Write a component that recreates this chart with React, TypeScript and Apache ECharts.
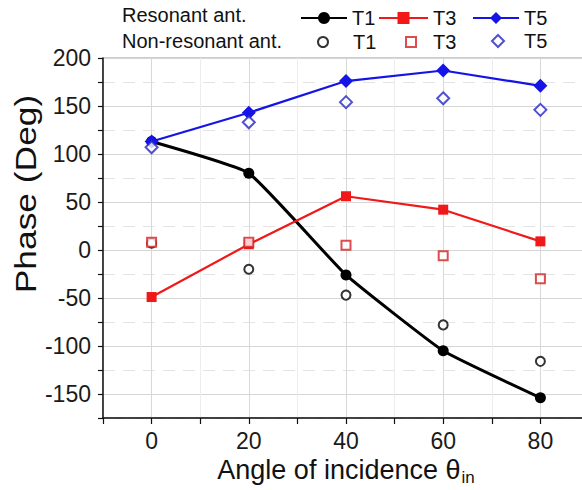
import React, { useEffect, useRef } from 'react';
import * as echarts from 'echarts';

const angles = [0, 20, 40, 60, 80];
const resT1 = [113, 80, -26, -105, -154];
const resT3 = [-49, 6, 56, 42, 9];
const resT5 = [113, 143, 176, 187, 171];
const nonT1 = [7, -20, -47, -78, -116];
const nonT3 = [8, 8, 5, -6, -30];
const nonT5 = [107, 133, 154, 158, 146];
const xTickLabels = [0, 20, 40, 60, 80];
const yTickLabels = [-150, -100, -50, 0, 50, 100, 150, 200];

const FONT = 'Liberation Sans, Arial, sans-serif';
const toPairs = (vals: number[]) => angles.map((a, i) => [a, vals[i]]);

export default function App() {
  const ref = useRef<HTMLDivElement>(null);
  useEffect(() => {
    if (!ref.current) return;
    const chart = echarts.init(ref.current, undefined, { renderer: 'svg' });
    const RED = '#f01818';
    const BLUE = '#1414e6';
    const legendBase = {
      orient: 'horizontal',
      padding: 0,
      formatter: (n: string) => n.split(' ')[1],
      textStyle: { fontSize: 20, color: '#111', fontFamily: FONT },
    };
    chart.setOption({
      animation: false,
      backgroundColor: '#ffffff',
      grid: {
        left: 103, top: 58, right: -7, bottom: 72,
        containLabel: false, outerBoundsMode: 'none',
        show: true, borderColor: '#9a9a9a', borderWidth: 1,
      },
      xAxis: [
        {
          type: 'value',
          min: -10,
          max: 90,
          interval: 10,
          axisLine: { show: true, onZero: false, lineStyle: { color: '#111', width: 1.5 } },
          axisTick: { show: true, inside: false, length: 6, lineStyle: { color: '#111', width: 1.2 } },
          axisLabel: {
            fontSize: 23,
            color: '#1a1a1a',
            fontFamily: FONT,
            margin: 11,
            formatter: (v: number) => (xTickLabels.includes(v) ? String(v) : ''),
          },
          splitLine: { show: true, lineStyle: { color: ['#ededed', '#d8d8d8'], width: 1 } },
          name: 'Angle of incidence θ{sub|in}',
          nameLocation: 'middle',
          nameGap: 35,
          nameTextStyle: {
            fontSize: 27,
            color: '#111',
            fontFamily: FONT,
            rich: { sub: { fontSize: 17, color: '#111', fontFamily: FONT, padding: [15, 0, 0, 1] } },
          },
        },
      ],
      yAxis: [
        {
          type: 'value',
          min: -175,
          max: 200,
          interval: 25,
          axisLine: { show: true, onZero: false, lineStyle: { color: '#111', width: 1.5 } },
          axisTick: { show: true, inside: false, length: 5, lineStyle: { color: '#111', width: 1.2 } },
          axisLabel: {
            fontSize: 23,
            color: '#1a1a1a',
            fontFamily: FONT,
            margin: 12,
            formatter: (v: number) => (yTickLabels.includes(v) ? String(v) : ''),
          },
          splitLine: { show: true, lineStyle: { color: ['rgba(0,0,0,0)', '#d6d6d6'], width: 1 } },
        },
        {
          type: 'value',
          min: -175,
          max: 200,
          interval: 25,
          axisLine: { show: false },
          axisTick: { show: false },
          axisLabel: { show: false },
          splitLine: { show: true, lineStyle: { color: ['#e4e4e4', 'rgba(0,0,0,0)'], width: 1, type: [12, 8] } },
        },
      ],
      legend: [
        { ...legendBase, data: ['Resonant T1'], left: 300, top: 8, itemWidth: 46, itemHeight: 15 },
        { ...legendBase, data: ['Resonant T3'], left: 378, top: 8, itemWidth: 49, itemHeight: 15 },
        { ...legendBase, data: ['Resonant T5'], left: 472, top: 8, itemWidth: 46, itemHeight: 15 },
        { ...legendBase, data: ['Nonresonant T1'], left: 317, top: 32, itemWidth: 10, itemHeight: 10,
          textStyle: { ...legendBase.textStyle, padding: [0, 0, 0, 20] } },
        { ...legendBase, data: ['Nonresonant T3'], left: 405, top: 32, itemWidth: 10, itemHeight: 10,
          textStyle: { ...legendBase.textStyle, padding: [0, 0, 0, 12] } },
        { ...legendBase, data: ['Nonresonant T5'], left: 491, top: 31, itemWidth: 12, itemHeight: 12,
          textStyle: { ...legendBase.textStyle, padding: [0, 0, 0, 15] } },
      ],
      graphic: [
        { type: 'text', left: 122, top: 5, style: { text: 'Resonant ant.', fontSize: 20, fill: '#111', fontFamily: FONT } },
        { type: 'text', left: 122, top: 31, style: { text: 'Non-resonant ant.', fontSize: 20, fill: '#111', fontFamily: FONT } },
        {
          type: 'text',
          x: 26,
          y: 194,
          rotation: Math.PI / 2,
          scaleX: 1.22,
          style: { text: 'Phase (Deg)', fontSize: 29, fill: '#111', fontFamily: FONT, align: 'center', verticalAlign: 'middle' },
        },
      ],
      series: [
        {
          name: 'Resonant T1',
          type: 'line',
          data: toPairs(resT1),
          smooth: 0.12,
          symbol: 'circle',
          symbolSize: 11,
          itemStyle: { color: '#000' },
          lineStyle: { color: '#000', width: 3 },
          z: 3,
        },
        {
          name: 'Resonant T3',
          type: 'line',
          data: toPairs(resT3),
          symbol: 'rect',
          symbolSize: 10,
          itemStyle: { color: RED },
          lineStyle: { color: RED, width: 2.2 },
          z: 3,
        },
        {
          name: 'Resonant T5',
          type: 'line',
          data: toPairs(resT5),
          symbol: 'diamond',
          symbolSize: 14,
          itemStyle: { color: BLUE },
          lineStyle: { color: BLUE, width: 2.2 },
          z: 3,
        },
        {
          name: 'Nonresonant T1',
          type: 'scatter',
          data: toPairs(nonT1),
          symbol: 'circle',
          symbolSize: 9,
          itemStyle: { color: '#ffffff', borderColor: '#000', borderWidth: 2 },
          z: 4,
        },
        {
          name: 'Nonresonant T3',
          type: 'scatter',
          data: toPairs(nonT3),
          symbol: 'rect',
          symbolSize: 9,
          itemStyle: { color: '#ffffff', borderColor: '#d42020', borderWidth: 2 },
          z: 4,
        },
        {
          name: 'Nonresonant T5',
          type: 'scatter',
          data: toPairs(nonT5),
          symbol: 'diamond',
          symbolSize: 12,
          itemStyle: { color: '#ffffff', borderColor: '#2424c8', borderWidth: 2 },
          z: 4,
        },
      ],
    });
    return () => chart.dispose();
  }, []);
  return <div ref={ref} style={{ position: 'fixed', left: 0, top: 0, width: 582, height: 490 }} />;
}
